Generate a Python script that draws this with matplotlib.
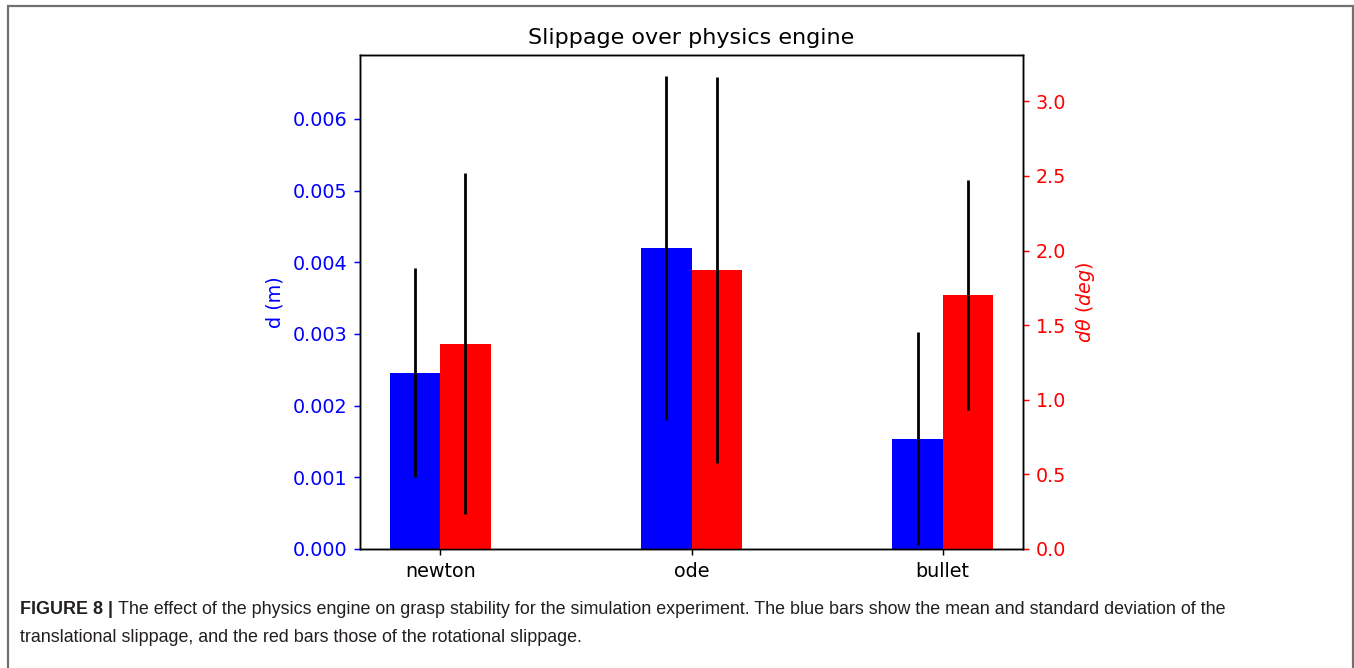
import numpy as np
import matplotlib
matplotlib.use("Agg")
import matplotlib.pyplot as plt
from matplotlib.patches import Rectangle

# data
engines = ["newton", "ode", "bullet"]
d_mean = [0.00246, 0.00420, 0.00154]      # translational slippage (m)
d_std = [0.00146, 0.00240, 0.00148]
theta_mean = [1.375, 1.870, 1.700]        # rotational slippage (deg)
theta_std = [1.142, 1.295, 0.770]

s = 1.337  # scale vs. matplotlib defaults
fig = plt.figure(figsize=(13.54, 6.68), dpi=100)

# outer frame around figure + caption
fig.patches.append(Rectangle((8 / 1354, -0.01), (1353 - 8) / 1354, 1 - 6 / 668 + 0.01,
                             transform=fig.transFigure, fill=False,
                             edgecolor="#707070", linewidth=1.6))

ax = fig.add_axes([360 / 1354, 1 - 549 / 668, (1023 - 360) / 1354, (549 - 55) / 668])
ax2 = ax.twinx()

x = np.arange(len(engines))
w = 0.2
err_kw = dict(elinewidth=1.5 * s, ecolor="black", capsize=0)
ax.bar(x - w / 2, d_mean, w, yerr=d_std, color="b", error_kw=err_kw)
ax2.bar(x + w / 2, theta_mean, w, yerr=theta_std, color="r", error_kw=err_kw)

ax.set_xticks(x)
ax.set_xticklabels(engines)
ax.set_xlim(-0.32, 2.32)
ax.set_ylim(0, 0.00689)
ax2.set_ylim(0, 3.31)
ax.set_yticks([0, 0.001, 0.002, 0.003, 0.004, 0.005, 0.006])
ax2.set_yticks([0, 0.5, 1.0, 1.5, 2.0, 2.5, 3.0])
ax.yaxis.set_major_formatter(matplotlib.ticker.FormatStrFormatter("%.3f"))
ax2.yaxis.set_major_formatter(matplotlib.ticker.FormatStrFormatter("%.1f"))

fs = 10.3 * s
for a in (ax, ax2):
    for sp in a.spines.values():
        sp.set_linewidth(0.8 * s)
    a.tick_params(length=3.5 * s, width=0.8 * s, labelsize=fs, pad=3.5 * s)
ax.tick_params(axis="y", colors="b")
ax2.tick_params(axis="y", colors="r")

ax.set_ylabel("d (m)", color="b", fontsize=fs, labelpad=4 * s)
ax2.set_ylabel(r"$d\theta\ (deg)$", color="r", fontsize=fs, labelpad=4 * s)
ax.set_title("Slippage over physics engine", fontsize=12 * s, pad=6 * s)

# caption
cap_font = ["Liberation Sans", "DejaVu Sans"]
cap_fs = 12.9
cap_col = "#231f20"
bold = fig.text(20 / 1354, 1 - 609 / 668, "FIGURE 8 |", fontsize=cap_fs, fontweight="bold",
                family=cap_font, color=cap_col, va="center")
fig.canvas.draw()
bb = bold.get_window_extent().transformed(fig.transFigure.inverted())
fig.text(bb.x1 + 5 / 1354, 1 - 609 / 668,
         "The effect of the physics engine on grasp stability for the simulation experiment. "
         "The blue bars show the mean and standard deviation of the",
         fontsize=cap_fs, family=cap_font, color=cap_col, va="center")
fig.text(20 / 1354, 1 - 637 / 668,
         "translational slippage, and the red bars those of the rotational slippage.",
         fontsize=cap_fs, family=cap_font, color=cap_col, va="center")

fig.savefig("out.png", dpi=100)
